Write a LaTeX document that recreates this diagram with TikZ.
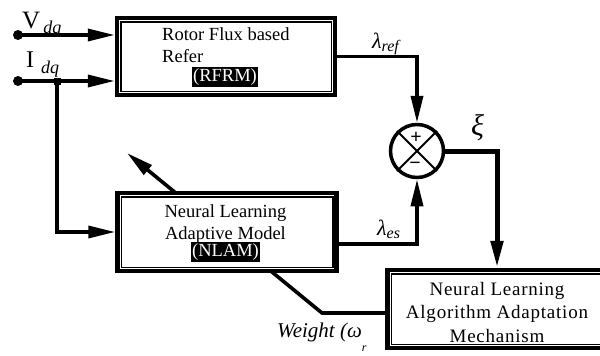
\documentclass[tikz,border=0pt]{standalone}
\usepackage{fontspec}
\setmainfont{Liberation Serif}
\newfontfamily\spaced[LetterSpace=4]{Liberation Serif}
\usetikzlibrary{arrows.meta,backgrounds,calc}
\begin{document}
\begin{tikzpicture}[x=1pt,y=-1pt,
  outerbox/.style={draw,line width=4.5pt,fill=white,inner sep=0pt},
  innerframe/.style={line width=1.5pt},
  conn/.style={line width=3.6pt},
  arr/.style={-{Triangle[length=27pt,width=12pt]}},
  lbl/.style={inner sep=0pt,font=\fontsize{18.5}{22}\selectfont},
  mlbl/.style={inner sep=0pt,font=\spaced\fontsize{19}{23}\selectfont},
  tag/.style={fill=black,text=white,inner sep=1.5pt,font=\fontsize{18.5}{20}\selectfont},
  dot/.style={circle,fill=black,inner sep=0pt,minimum size=10pt}]
\useasboundingbox (0,0) rectangle (600,356);
\clip (0,0) rectangle (600,356);

% boxes
\node[outerbox,minimum width=218pt,minimum height=77pt] (rfrm) at (226,56.5) {};
\node[outerbox,minimum width=219pt,minimum height=78pt] (nlam) at (227,232) {};
\node[outerbox,minimum width=232pt,minimum height=78pt] (mech) at (503.5,309) {};
\foreach \b in {rfrm,nlam,mech}
  \draw[innerframe] ([shift={(6pt,-6pt)}]\b.north west) rectangle ([shift={(-6pt,6pt)}]\b.south east);

% box texts
\node[lbl,anchor=base west] (rt1) at (162,40) {Rotor Flux based};
\node[lbl,anchor=base west] (rt2) at (162,62) {Refer};
\node[tag] (rt3) at (225,77) {(RFRM)};
\node[lbl,anchor=base] (nt1) at (225.5,217) {Neural Learning};
\node[lbl,anchor=base] (nt2) at (225.5,239) {Adaptive Model};
\node[tag] (nt3) at (225.5,252) {(NLAM)};
\node[mlbl,anchor=base] (mt1) at (497,295) {Neural Learning};
\node[mlbl,anchor=base] (mt2) at (497,318) {Algorithm Adaptation};
\node[mlbl,anchor=base] (mt3) at (497,342) {Mechanism};

% summing junction
\node[draw,circle,line width=3.5pt,minimum size=53pt,inner sep=0pt,fill=white] (sum) at (417,151) {};
\draw[line width=2pt] (sum.north west) -- (sum.south east);
\draw[line width=2pt] (sum.north east) -- (sum.south west);
\node[inner sep=0pt,font=\bfseries\fontsize{20}{20}\selectfont] (plus) at (416,138) {+};
\node[inner sep=0pt,font=\bfseries\fontsize{20}{20}\selectfont] (minus) at (415,166) {−};

% inputs
\node[dot] (vdot) at (18,35) {};
\node[dot] (idot) at (18,81) {};
\node[fill=black,inner sep=0pt,minimum size=7pt] (jn) at (57,81) {};
\draw[conn,arr] (vdot.center) -- (vdot.center -| rfrm.west);
\draw[conn,arr] (idot.center) -- (idot.center -| rfrm.west);
\draw[conn,arr] (jn.center) |- (nlam.west);

% fluxes
\draw[conn,arr] (rfrm.east) -| (sum.north);
\draw[conn,arr] ([yshift=-12pt]nlam.east) -| (sum.south);
\coordinate (xi) at (497,151);
\draw[line width=5pt,arr] (sum.east) -- (xi) -- (xi |- mech.north);

% weight feedback
\coordinate (wk) at (322,313);
\coordinate (wtip) at (127,153);
\begin{pgfonlayer}{background}
\draw[conn,arr] (mech.west |- wk) -- (wk) -- (wtip);
\end{pgfonlayer}

% labels
\node[anchor=base west,inner sep=0pt] (vlab) at (22,28) {\fontsize{25}{25}\selectfont V\hspace{3pt}\raisebox{-5pt}{\fontsize{18}{18}\selectfont\itshape dq}};
\node[anchor=base west,inner sep=0pt] (ilab) at (26,67) {\fontsize{24}{24}\selectfont I\hspace{7pt}\raisebox{-6pt}{\fontsize{18}{18}\selectfont\itshape dq}};
\node[anchor=base west,inner sep=0pt] (lref) at (372,48) {\fontsize{22}{22}\selectfont\itshape λ\raisebox{-3pt}{\fontsize{16}{16}\selectfont ref}};
\node[anchor=base west,inner sep=0pt] (les) at (377,235) {\fontsize{22}{22}\selectfont\itshape λ\raisebox{-3pt}{\fontsize{16}{16}\selectfont es}};
\node[anchor=base west,inner sep=0pt] (xil) at (471,135) {\fontsize{30}{30}\selectfont\itshape ξ};
\node[anchor=base west,inner sep=0pt] (wlab) at (277,337) {\fontsize{21}{21}\selectfont\itshape Weight (ω\raisebox{-14pt}{\fontsize{12}{12}\selectfont r}};
\end{tikzpicture}
\end{document}
